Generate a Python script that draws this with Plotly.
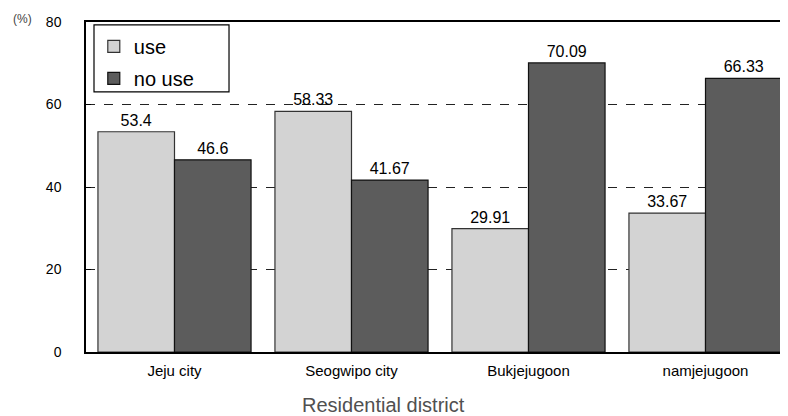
import plotly.graph_objects as go

districts = ["Jeju city", "Seogwipo city", "Bukjejugoon", "namjejugoon"]
use_vals = [53.4, 58.33, 29.91, 33.67]
nouse_vals = [46.6, 41.67, 70.09, 66.33]
use_text = ["53.4", "58.33", "29.91", "33.67"]
nouse_text = ["46.6", "41.67", "70.09", "66.33"]
y_ticks = [0, 20, 40, 60, 80]

FONT = "Arial, Liberation Sans, sans-serif"

fig = go.Figure()
fig.add_trace(go.Bar(
    x=districts, y=use_vals, name="use", text=use_text, legendgroup="a",
    textposition="outside", cliponaxis=False, constraintext="none",
    textfont=dict(size=16, color="black", family=FONT),
    marker=dict(color="#d3d3d3", line=dict(color="#333333", width=1.2)),
))
fig.add_trace(go.Bar(
    x=districts, y=nouse_vals, name="no use", text=nouse_text, legendgroup="b",
    textposition="outside", cliponaxis=False, constraintext="none",
    textfont=dict(size=16, color="black", family=FONT),
    marker=dict(color="#5c5c5c", line=dict(color="#111111", width=1.2)),
))

fig.update_layout(
    width=788, height=416,
    margin=dict(l=78, r=2, t=14, b=72, autoexpand=False),
    paper_bgcolor="white", plot_bgcolor="white",
    barmode="group", bargap=0.135, bargroupgap=0,
    font=dict(family=FONT, size=14, color="black"),
    showlegend=True,
    legend=dict(x=0.011, y=0.985, xanchor="left", yanchor="top",
                borderwidth=0, bgcolor="rgba(0,0,0,0)",
                font=dict(size=20), itemwidth=30, tracegroupgap=3),
    xaxis=dict(range=[-0.5, 3.5], showline=True, linecolor="black", linewidth=1.5,
               mirror=True, ticks="", showgrid=False, automargin=False,
               tickfont=dict(size=15), ticklabelstandoff=4),
    yaxis=dict(range=[0, 80], tickvals=y_ticks, showline=True, linecolor="black", linewidth=1.5,
               showgrid=True, gridcolor="#222222", gridwidth=1, griddash="dash",
               ticks="inside", ticklen=5, tickcolor="black", zeroline=False, automargin=False,
               tickfont=dict(size=14), ticklabelstandoff=20),
    shapes=[dict(type="rect", xref="paper", yref="paper", x0=0.0113, x1=0.202, y0=0.788, y1=0.991,
                 line=dict(color="black", width=1.2), fillcolor="white", layer="below")],
)
fig.add_annotation(text="Residential district", x=0.4195, y=-0.1606, xref="paper", yref="paper",
                   xanchor="center", yanchor="middle", showarrow=False,
                   font=dict(size=20, color="#505050"))
fig.add_annotation(text="(%)", x=0, y=1.0, xref="paper", yref="paper",
                   xanchor="left", yanchor="middle", xshift=-75, yshift=3,
                   showarrow=False, font=dict(size=12, color="#444444"))

fig.write_html("out.html")
